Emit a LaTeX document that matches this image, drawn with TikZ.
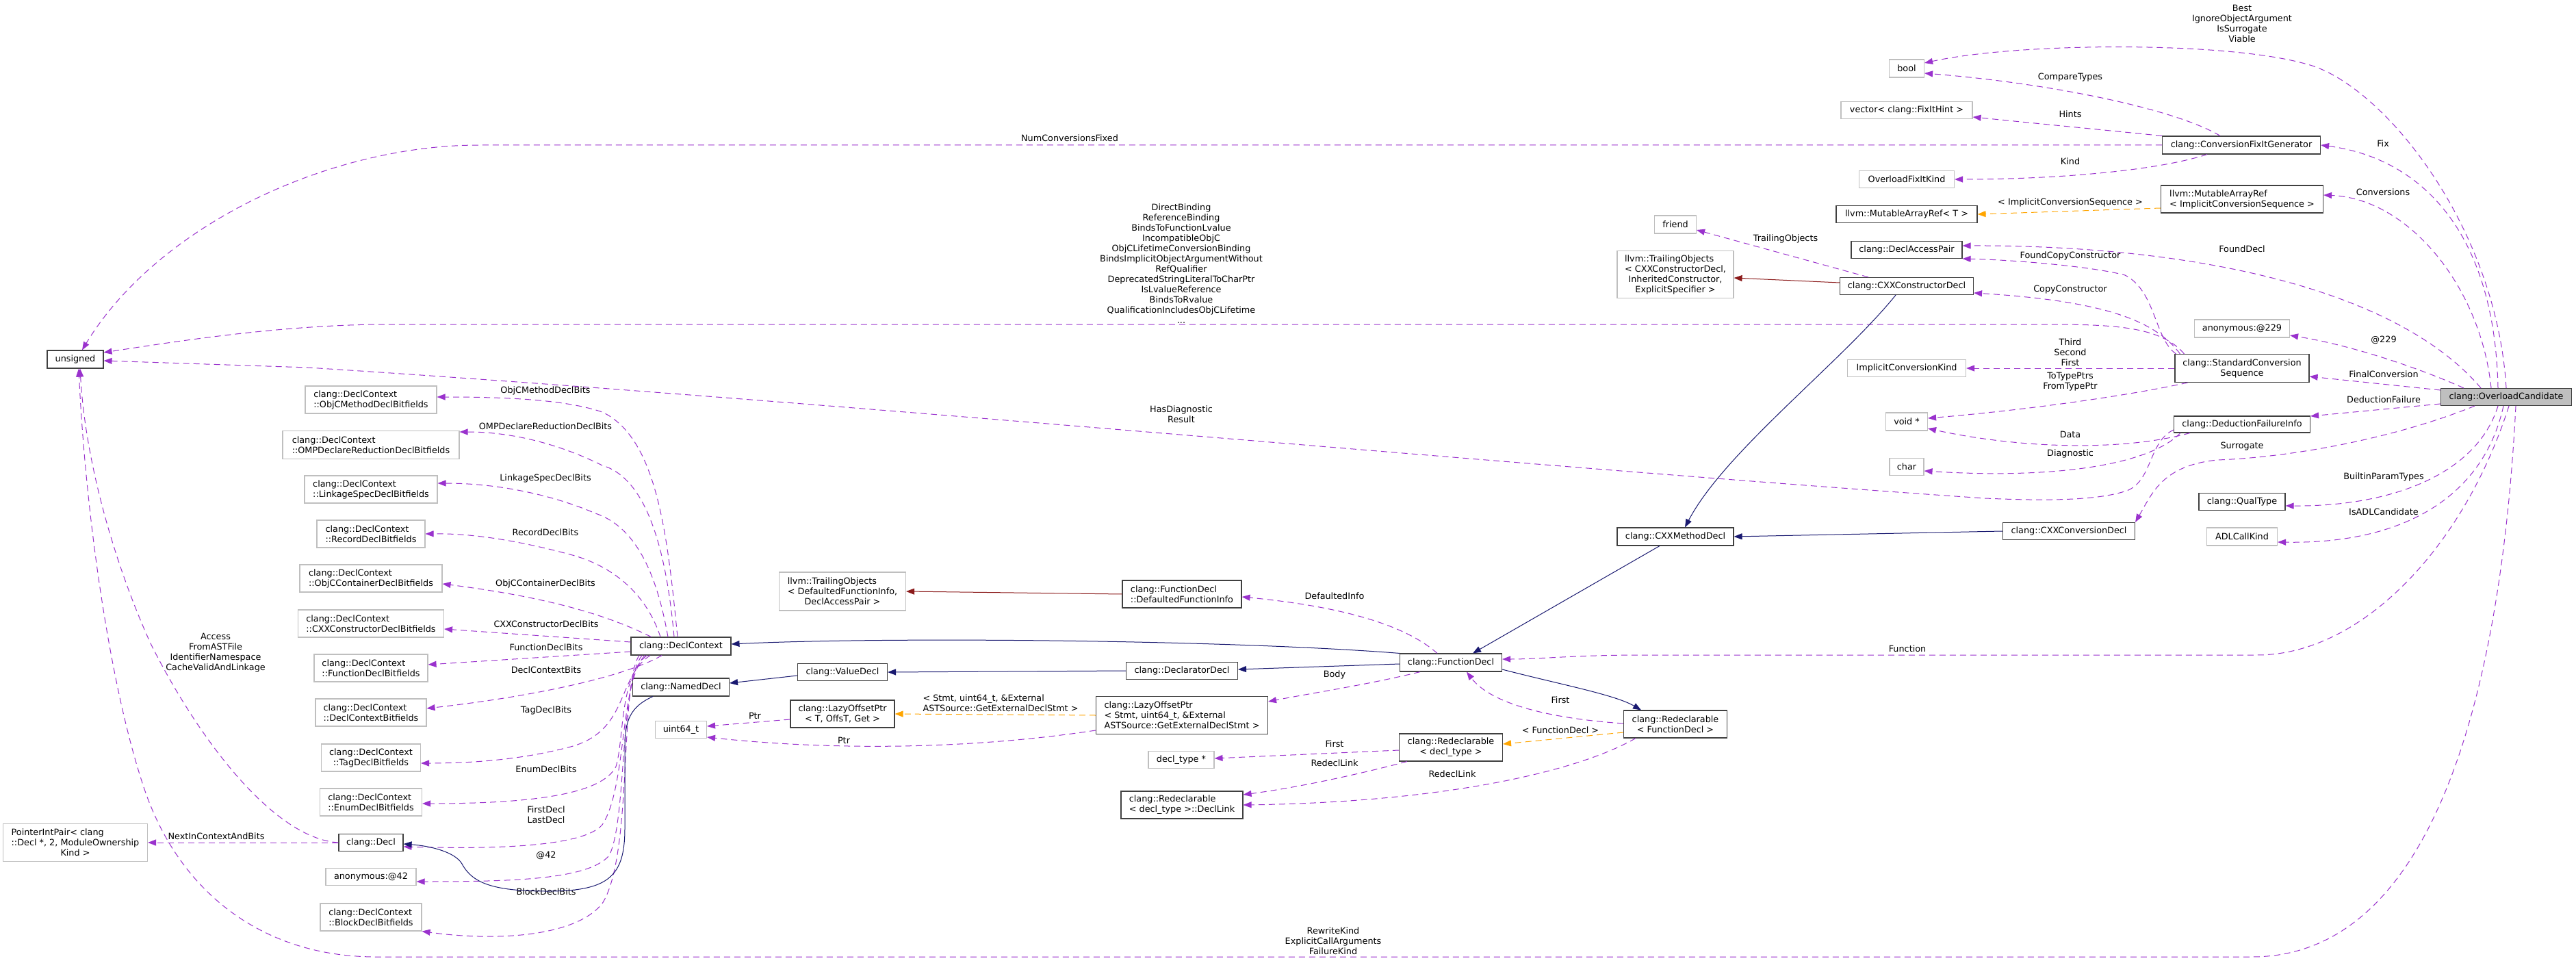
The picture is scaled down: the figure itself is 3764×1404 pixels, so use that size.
\documentclass[tikz,border=0pt]{standalone}
\usepackage{fontspec}
\setmainfont{DejaVu Sans}
\usetikzlibrary{arrows.meta,calc}
\definecolor{usecol}{HTML}{9A32CD}
\definecolor{tplcol}{HTML}{FFA500}
\definecolor{inhcol}{HTML}{191970}
\definecolor{privcol}{HTML}{8B1A1A}
\definecolor{clscol}{HTML}{404040}
\definecolor{extcol}{HTML}{BFBFBF}
\definecolor{maincol}{HTML}{BFBFBF}
\newcommand{\dxfont}{\fontsize{12.8}{15}\selectfont}
\tikzset{
  cls/.style={draw=clscol, fill=white, line width=1.1pt, inner sep=2pt, align=left, font=\dxfont},
  ext/.style={cls, draw=extcol},
  main/.style={cls, fill=maincol},
  bx/.style 2 args={minimum width=#1pt, minimum height=#2pt},
  lbl/.style={align=center, inner sep=0pt, font=\dxfont},
  usage/.style={draw=usecol, line width=1pt, dash pattern=on 9pt off 6pt, -{Triangle[length=12pt,width=9pt]}},
  tmpl/.style={usage, draw=tplcol},
  inh/.style={draw=inhcol, line width=1pt, -{Triangle[length=12pt,width=9pt]}},
  priv/.style={inh, draw=privcol}
}
\begin{document}
\begin{tikzpicture}[x=1pt,y=-1pt]
\useasboundingbox (0,0) rectangle (3764,1404);
\fill[white] (0,0) rectangle (3764,1404);

\node[main, bx={191}{25}] (oc) at (3662,580) {clang::OverloadCandidate};
\node[cls, bx={231}{26}] (cfg) at (3275,212) {clang::ConversionFixItGenerator};
\node[cls, bx={237}{40}] (marICS) at (3276,291) {llvm::MutableArrayRef\\< ImplicitConversionSequence >};
\node[ext, bx={139}{26}] (anon229) at (3276,480) {anonymous:@229};
\node[cls, bx={196}{41}] (scs) at (3276,538) {clang::StandardConversion\\\hfil Sequence};
\node[cls, bx={199}{24}] (dfi) at (3276,620) {clang::DeductionFailureInfo};
\node[cls, bx={126}{25}] (qualtype) at (3276,733) {clang::QualType};
\node[ext, bx={103}{26}] (adl) at (3276,784) {ADLCallKind};
\node[cls, bx={193}{25}] (convdecl) at (3023,776) {clang::CXXConversionDecl};

\node[ext, bx={51}{26}] (bool) at (2786,100) {bool};
\node[ext, bx={192}{25}] (vecfix) at (2786,161) {vector< clang::FixItHint >};
\node[ext, bx={139}{25}] (ofk) at (2786,262) {OverloadFixItKind};
\node[cls, bx={206}{25}] (marT) at (2786,313) {llvm::MutableArrayRef< T >};
\node[cls, bx={162}{25}] (dap) at (2786,365) {clang::DeclAccessPair};
\node[cls, bx={195}{25}] (ctordecl) at (2786,418) {clang::CXXConstructorDecl};
\node[ext, bx={173}{25}] (ick) at (2786,538) {ImplicitConversionKind};
\node[ext, bx={61}{26}] (voidp) at (2786,616) {void *};
\node[ext, bx={50}{25}] (charn) at (2786,682) {char};

\node[ext, bx={61}{26}] (frnd) at (2448,328) {friend};
\node[ext, bx={170}{69}] (toCtor) at (2448,401) {llvm::TrailingObjects\\< CXXConstructorDecl,\\\hfil InheritedConstructor,\\\hfil ExplicitSpecifier >};
\node[cls, bx={170}{26}] (methdecl) at (2448,784) {clang::CXXMethodDecl};
\node[cls, bx={151}{40}] (redeclFD) at (2448,1058) {clang::Redeclarable\\\hfil < FunctionDecl >};

\node[cls, bx={149}{26}] (funcdecl) at (2120,968) {clang::FunctionDecl};
\node[cls, bx={151}{40}] (redeclDT) at (2120,1092) {clang::Redeclarable\\\hfil < decl\_type >};

\node[cls, bx={174}{40}] (dfinfo) at (1727,868) {clang::FunctionDecl\\::DefaultedFunctionInfo};
\node[cls, bx={163}{25}] (declarator) at (1727,980) {clang::DeclaratorDecl};
\node[cls, bx={251}{55}] (lazyStmt) at (1727,1045) {clang::LazyOffsetPtr\\< Stmt, uint64\_t, \&External\\ASTSource::GetExternalDeclStmt >};
\node[ext, bx={96}{25}] (decltypep) at (1726,1110) {decl\_type *};
\node[cls, bx={178}{40}] (decllink) at (1727,1176) {clang::Redeclarable\\< decl\_type >::DeclLink};

\node[ext, bx={185}{56}] (toDFI) at (1231,864) {llvm::TrailingObjects\\< DefaultedFunctionInfo,\\\hfil DeclAccessPair >};
\node[cls, bx={131}{25}] (valuedecl) at (1231,982) {clang::ValueDecl};
\node[cls, bx={152}{40}] (lazyT) at (1231,1043) {clang::LazyOffsetPtr\\\hfil < T, OffsT, Get >};

\node[cls, bx={146}{26}] (declctx) at (995,944) {clang::DeclContext};
\node[cls, bx={141}{26}] (nameddecl) at (995,1004) {clang::NamedDecl};
\node[ext, bx={75}{25}] (uint64) at (995,1066) {uint64\_t};

\node[ext, bx={192}{40}] (bfObjCMethod) at (542,584) {clang::DeclContext\\\hfil ::ObjCMethodDeclBitfields};
\node[ext, bx={258}{41}] (bfOMP) at (542,650) {clang::DeclContext\\\hfil ::OMPDeclareReductionDeclBitfields};
\node[ext, bx={194}{40}] (bfLinkage) at (542,715) {clang::DeclContext\\\hfil ::LinkageSpecDeclBitfields};
\node[ext, bx={158}{40}] (bfRecord) at (542,780) {clang::DeclContext\\\hfil ::RecordDeclBitfields};
\node[ext, bx={208}{40}] (bfObjCCont) at (542,845) {clang::DeclContext\\\hfil ::ObjCContainerDeclBitfields};
\node[ext, bx={213}{40}] (bfCtor) at (542,911) {clang::DeclContext\\\hfil ::CXXConstructorDeclBitfields};
\node[ext, bx={166}{40}] (bfFunc) at (542,976) {clang::DeclContext\\\hfil ::FunctionDeclBitfields};
\node[ext, bx={162}{40}] (bfCtx) at (542,1041) {clang::DeclContext\\\hfil ::DeclContextBitfields};
\node[ext, bx={145}{40}] (bfTag) at (542,1107) {clang::DeclContext\\\hfil ::TagDeclBitfields};
\node[ext, bx={149}{40}] (bfEnum) at (542,1172) {clang::DeclContext\\\hfil ::EnumDeclBitfields};
\node[cls, bx={94}{25}] (decl) at (542,1231) {clang::Decl};
\node[ext, bx={132}{25}] (anon42) at (542,1281) {anonymous:@42};
\node[ext, bx={148}{40}] (bfBlock) at (542,1340) {clang::DeclContext\\\hfil ::BlockDeclBitfields};

\node[cls, bx={82}{26}] (unsgn) at (110,525) {unsigned};
\node[ext, bx={211}{55}] (pip) at (110,1231) {PointerIntPair< clang\\::Decl *, 2, ModuleOwnership\\\hfil Kind >};

\node[lbl] (lBest) at (3276,34) {Best\\IgnoreObjectArgument\\IsSurrogate\\Viable};
\node[lbl] (lCompare) at (3025,113) {CompareTypes};
\node[lbl] (lHints) at (3025,167) {Hints};
\node[lbl] (lNumConv) at (1563,202) {NumConversionsFixed};
\node[lbl] (lKind) at (3025,236) {Kind};
\node[lbl] (lICS) at (3025,296) {< ImplicitConversionSequence >};
\node[lbl] (lFix) at (3482,210) {Fix};
\node[lbl] (lConv) at (3482,281) {Conversions};
\node[lbl] (lTrailing) at (2609,349) {TrailingObjects};
\node[lbl] (lFoundDecl) at (3276,364) {FoundDecl};
\node[lbl] (lFoundCopy) at (3025,374) {FoundCopyConstructor};
\node[lbl] (lCopyCtor) at (3025,423) {CopyConstructor};
\node[lbl] (lBinding) at (1726,385) {DirectBinding\\ReferenceBinding\\BindsToFunctionLvalue\\IncompatibleObjC\\ObjCLifetimeConversionBinding\\BindsImplicitObjectArgumentWithout\\RefQualifier\\DeprecatedStringLiteralToCharPtr\\IsLvalueReference\\BindsToRvalue\\QualificationIncludesObjCLifetime\\...};
\node[lbl] (l229) at (3483,497) {@229};
\node[lbl] (lThird) at (3025,515) {Third\\Second\\First};
\node[lbl] (lFinal) at (3483,547) {FinalConversion};
\node[lbl] (lToType) at (3025,558) {ToTypePtrs\\FromTypePtr};
\node[lbl] (lDeduct) at (3483,584) {DeductionFailure};
\node[lbl] (lHasDiag) at (1726,605) {HasDiagnostic\\Result};
\node[lbl] (lData) at (3025,635) {Data};
\node[lbl] (lSurr) at (3276,652) {Surrogate};
\node[lbl] (lDiag) at (3025,663) {Diagnostic};
\node[lbl] (lBuiltin) at (3483,697) {BuiltinParamTypes};
\node[lbl] (lADL) at (3483,748) {IsADLCandidate};
\node[lbl] (lDefInfo) at (1950,871) {DefaultedInfo};
\node[lbl] (lFunction) at (2787,948) {Function};
\node[lbl] (lBody) at (1950,986) {Body};
\node[lbl] (lFirstFD) at (2280,1023) {First};
\node[lbl, align=left] (lLazyArgs) at (1462,1027) {< Stmt, uint64\_t, \&External\\ASTSource::GetExternalDeclStmt >};
\node[lbl] (lFDtpl) at (2280,1067) {< FunctionDecl >};
\node[lbl] (lFirstDT) at (1950,1087) {First};
\node[lbl] (lRedeclDT) at (1950,1115) {RedeclLink};
\node[lbl] (lRedeclFD) at (2122,1131) {RedeclLink};
\node[lbl] (lPtrT) at (1103,1046) {Ptr};
\node[lbl] (lPtrStmt) at (1233,1082) {Ptr};
\node[lbl] (lRewrite) at (1948,1375) {RewriteKind\\ExplicitCallArguments\\FailureKind};
\node[lbl] (lObjCMethod) at (797,571) {ObjCMethodDeclBits};
\node[lbl] (lOMP) at (797,623) {OMPDeclareReductionDeclBits};
\node[lbl] (lLinkage) at (797,699) {LinkageSpecDeclBits};
\node[lbl] (lRecord) at (797,778) {RecordDeclBits};
\node[lbl] (lObjCCont) at (797,853) {ObjCContainerDeclBits};
\node[lbl] (lCtor) at (798,912) {CXXConstructorDeclBits};
\node[lbl] (lFunc) at (798,946) {FunctionDeclBits};
\node[lbl] (lCtx) at (798,979) {DeclContextBits};
\node[lbl] (lTag) at (798,1038) {TagDeclBits};
\node[lbl] (lEnum) at (798,1124) {EnumDeclBits};
\node[lbl] (lFirstDecl) at (798,1190) {FirstDecl\\LastDecl};
\node[lbl] (l42) at (798,1250) {@42};
\node[lbl] (lBlock) at (798,1303) {BlockDeclBits};
\node[lbl] (lAccess) at (315,954) {Access\\FromASTFile\\IdentifierNamespace\\CacheValidAndLinkage};
\node[lbl] (lNext) at (316,1222) {NextInContextAndBits};

\draw[usage] (oc.north) .. controls (3648,330) and (3480,120) .. (3368,93) .. controls (3248,60) and (2950,62) .. ($(bool.east)+(0,-8)$);
\draw[usage] ($(cfg.north)+(-31,0)$) .. controls (3180,160) and (3000,122) .. ($(bool.east)+(0,7)$);
\draw[usage] (cfg.north west) -- ($(vecfix.east)+(0,10)$);
\draw[usage] (cfg.west) -- (700,212) .. controls (480,212) and (230,330) .. ($(unsgn.north)+(10,0)$);
\draw[usage] ($(cfg.south)+(-50,0)$) .. controls (3150,250) and (3000,262) .. (ofk.east);
\draw[tmpl] ($(marICS.west)+(0,13)$) -- (marT.east);
\draw[usage] ($(oc.north)+(-12,0)$) .. controls (3645,330) and (3530,230) .. (cfg.east);
\draw[usage] ($(oc.north)+(-22,0)$) .. controls (3625,420) and (3520,290) .. ($(marICS.east)+(0,-6)$);
\draw[usage] ($(oc.north)+(-37,0)$) .. controls (3500,420) and (3200,358) .. ($(dap.east)+(0,-6)$);
\draw[usage] ($(scs.north west)+(2,0)$) .. controls (3148,495) and (3150,425) .. (3105,402) .. controls (3060,390) and (2950,380) .. ($(dap.east)+(0,13)$);
\draw[usage] ($(scs.north west)+(8,0)$) .. controls (3150,470) and (3080,440) .. ($(ctordecl.east)+(0,10)$);
\draw[usage] ($(scs.north west)+(14,0)$) .. controls (3160,480) and (3100,474) .. (3000,474) -- (550,474) .. controls (400,476) and (250,500) .. ($(unsgn.east)+(0,-10)$);
\draw[usage] (scs.west) -- (ick.east);
\draw[usage] ($(scs.south west)+(19,0)$) .. controls (3100,580) and (2950,600) .. ($(voidp.east)+(0,-5)$);
\draw[usage] ($(dfi.south west)+(24,0)$) .. controls (3100,660) and (2950,655) .. ($(voidp.east)+(0,10)$);
\draw[usage] ($(dfi.south west)+(10,0)$) .. controls (3140,680) and (3000,700) .. ($(charn.east)+(0,6)$);
\draw[usage] ($(dfi.west)+(0,8)$) .. controls (3140,645) and (3145,700) .. (3110,716) .. controls (3060,735) and (2950,730) .. (2900,728) .. controls (2200,680) and (1200,585) .. (450,537) -- ($(unsgn.east)+(0,2)$);
\draw[usage] ($(oc.north)+(-62,0)$) .. controls (3540,540) and (3440,505) .. ($(anon229.east)+(0,10)$);
\draw[usage] ($(oc.west)+(0,-10)$) -- ($(scs.east)+(0,12)$);
\draw[usage] ($(oc.west)+(0,10)$) -- ($(dfi.east)+(0,-12)$);
\draw[usage] ($(oc.south)+(-46,0)$) .. controls (3500,640) and (3350,668) .. (3240,672) .. controls (3160,680) and (3145,720) .. (convdecl.north east);
\draw[usage] ($(oc.south)+(-12,0)$) .. controls (3620,690) and (3500,740) .. ($(qualtype.east)+(0,6)$);
\draw[usage] ($(oc.south)+(-4,0)$) .. controls (3630,720) and (3520,795) .. ($(adl.east)+(0,8)$);
\draw[usage] ($(oc.south)+(4,0)$) .. controls (3600,800) and (3450,957) .. (3298,957) -- (2400,957) .. controls (2300,957) and (2250,963) .. ($(funcdecl.east)+(0,-5)$);
\draw[usage] ($(oc.south)+(14,0)$) .. controls (3655,1000) and (3560,1398) .. (3290,1398) -- (550,1398) .. controls (380,1398) and (260,1300) .. (210,1150) .. controls (160,1000) and (125,750) .. ($(unsgn.south)+(5,0)$);
\draw[usage] (decl.west) .. controls (400,1225) and (290,1080) .. (220,940) .. controls (170,830) and (125,680) .. ($(unsgn.south)+(7,0)$);
\draw[usage] (decl.west) -- (pip.east);

\draw[usage] ($(declctx.north)+(-5,0)$) .. controls (975,780) and (960,640) .. (880,602) .. controls (830,585) and (750,580) .. ($(bfObjCMethod.east)+(0,-4)$);
\draw[usage] ($(declctx.north)+(-10,0)$) .. controls (975,820) and (950,700) .. (880,680) .. controls (820,650) and (750,631) .. ($(bfOMP.east)+(0,-19)$);
\draw[usage] ($(declctx.north)+(-19,0)$) .. controls (960,840) and (930,770) .. (870,750) .. controls (800,720) and (720,706) .. ($(bfLinkage.east)+(0,-9)$);
\draw[usage] ($(declctx.north)+(-30,0)$) .. controls (945,870) and (900,830) .. (840,812) .. controls (760,790) and (690,779) .. (bfRecord.east);
\draw[usage] ($(declctx.north west)+(30,0)$) .. controls (900,905) and (820,875) .. ($(bfObjCCont.east)+(0,8)$);
\draw[usage] ($(declctx.west)+(0,-6)$) -- ($(bfCtor.east)+(0,8)$);
\draw[usage] ($(declctx.west)+(0,8)$) -- ($(bfFunc.east)+(0,-5)$);
\draw[usage] ($(declctx.south)+(-28,0)$) .. controls (920,985) and (800,1015) .. ($(bfCtx.east)+(0,-6)$);
\draw[usage] ($(declctx.south)+(-45,0)$) .. controls (900,990) and (920,1070) .. (830,1092) .. controls (760,1110) and (690,1115) .. ($(bfTag.east)+(0,8)$);
\draw[usage] ($(declctx.south)+(-50,0)$) .. controls (905,990) and (912,1080) .. (900,1120) .. controls (880,1160) and (780,1174) .. ($(bfEnum.east)+(0,2)$);
\draw[usage] ($(declctx.south)+(-53,0)$) .. controls (905,1000) and (916,1150) .. (880,1205) .. controls (850,1240) and (700,1240) .. ($(decl.east)+(0,6)$);
\draw[usage] ($(declctx.south)+(-57,0)$) .. controls (905,1000) and (916,1200) .. (890,1250) .. controls (860,1285) and (750,1288) .. ($(anon42.east)+(0,7)$);
\draw[usage] ($(declctx.south)+(-61,0)$) .. controls (905,1000) and (925,1250) .. (880,1320) .. controls (840,1370) and (720,1375) .. (bfBlock.south east);

\draw[inh] ($(ctordecl.south)+(-16,0)$) .. controls (2690,530) and (2520,660) .. ($(methdecl.north)+(14,0)$);
\draw[inh] (convdecl.west) -- (methdecl.east);
\draw[inh] ($(methdecl.south)+(-23,0)$) -- ($(funcdecl.north)+(32,0)$);
\draw[inh] ($(funcdecl.west)+(0,2)$) -- ($(declarator.east)+(0,-2)$);
\draw[inh] (funcdecl.north west) .. controls (1800,935) and (1300,930) .. ($(declctx.east)+(0,-3)$);
\draw[inh] ($(funcdecl.east)+(0,10)$) .. controls (2280,1000) and (2360,1015) .. ($(redeclFD.north)+(-50,0)$);
\draw[inh] (declarator.west) -- (valuedecl.east);
\draw[inh] ($(valuedecl.west)+(0,5)$) -- ($(nameddecl.east)+(0,-6)$);
\draw[inh] ($(nameddecl.south)+(-41,0)$) .. controls (915,1035) and (913,1060) .. (913,1100) -- (913,1210) .. controls (913,1280) and (890,1302) .. (800,1302) .. controls (720,1302) and (690,1290) .. (675,1262) .. controls (665,1245) and (630,1236) .. ($(decl.east)+(0,2)$);

\draw[priv] ($(ctordecl.west)+(0,-5)$) -- ($(toCtor.east)+(0,5)$);
\draw[priv] (dfinfo.west) -- (toDFI.east);

\draw[tmpl] ($(redeclFD.west)+(0,12)$) -- ($(redeclDT.east)+(0,-5)$);
\draw[tmpl] (lazyStmt.west) -- (lazyT.east);

\draw[usage] ($(ctordecl.north)+(-56,0)$) -- ($(frnd.east)+(0,8)$);
\draw[usage] ($(funcdecl.north)+(-20,0)$) .. controls (2050,910) and (1950,885) .. ($(dfinfo.east)+(0,4)$);
\draw[usage] ($(funcdecl.south)+(-45,0)$) .. controls (2000,1000) and (1920,1012) .. ($(lazyStmt.east)+(0,-20)$);
\draw[usage] ($(redeclFD.west)+(0,-1)$) .. controls (2270,1050) and (2180,1030) .. ($(funcdecl.south)+(23,0)$);
\draw[usage] ($(redeclDT.west)+(0,4)$) -- ($(decltypep.east)+(0,-2)$);
\draw[usage] ($(redeclDT.south west)+(12,0)$) .. controls (1990,1130) and (1900,1150) .. ($(decllink.east)+(0,-15)$);
\draw[usage] ($(redeclFD.south)+(-58,0)$) .. controls (2300,1130) and (2100,1172) .. (decllink.east);
\draw[usage] ($(lazyT.west)+(0,8)$) -- ($(uint64.east)+(0,-5)$);
\draw[usage] ($(lazyStmt.west)+(0,22)$) .. controls (1450,1090) and (1250,1100) .. ($(uint64.east)+(0,11)$);
\end{tikzpicture}
\end{document}
